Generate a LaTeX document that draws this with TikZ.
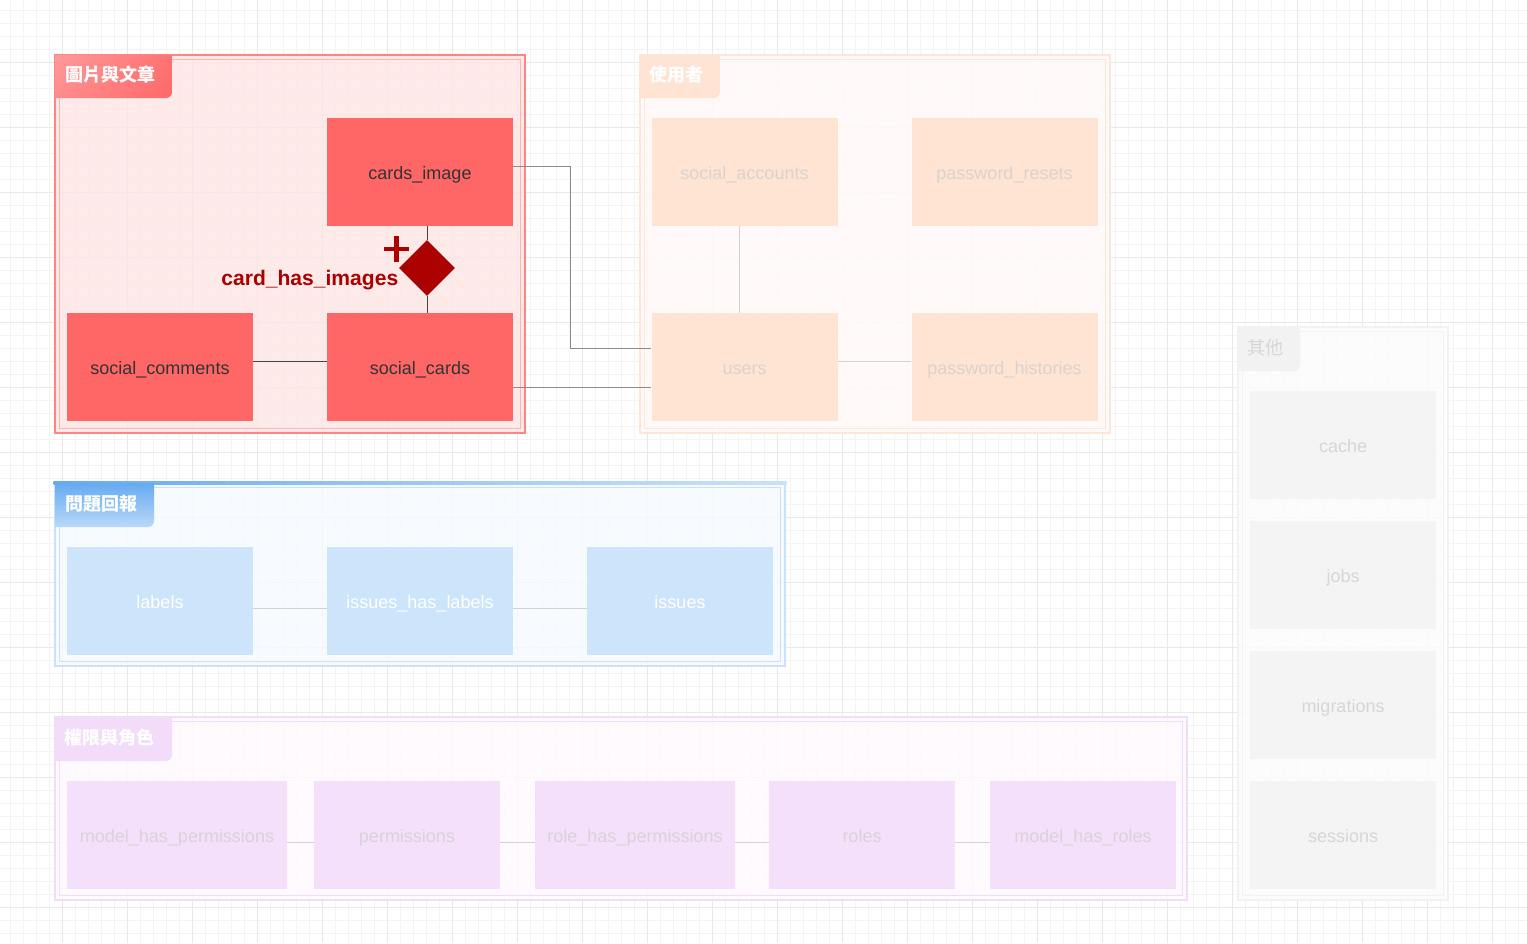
\documentclass[tikz,border=0pt]{standalone}
\usepackage{fontspec}
\setmainfont{Liberation Sans}
\newfontfamily\cjk{Noto Sans CJK TC}
\usetikzlibrary{positioning,shapes.geometric,calc,shadings}

\definecolor{gridMinor}{HTML}{F4F4F4}
\definecolor{gridMajor}{HTML}{E9E9E9}
\definecolor{redNode}{HTML}{FF6666}
\definecolor{redFrame}{HTML}{FF8484}
\definecolor{redInner}{HTML}{FFB4B4}
\definecolor{redBack}{HTML}{FFE4E4}
\definecolor{redTabA}{HTML}{FF9A9A}
\definecolor{redTabB}{HTML}{FF6868}
\definecolor{relRed}{HTML}{AA0000}
\definecolor{peachNode}{HTML}{FFE4D4}
\definecolor{peachFrame}{HTML}{FFE6D8}
\definecolor{peachBack}{HTML}{FFFAF8}
\definecolor{peachText}{HTML}{DCD2CD}
\definecolor{blueNode}{HTML}{CCE5FA}
\definecolor{blueFrame}{HTML}{C9E2FA}
\definecolor{blueBack}{HTML}{F6FAFE}
\definecolor{blueTabA}{HTML}{66AAF0}
\definecolor{blueTabB}{HTML}{B9D9F8}
\definecolor{purpleNode}{HTML}{F4E0FA}
\definecolor{purpleFrame}{HTML}{F3DCF9}
\definecolor{purpleBack}{HTML}{FEFAFE}
\definecolor{purpleText}{HTML}{D9D2D9}
\definecolor{grayNode}{HTML}{F4F4F4}
\definecolor{grayFrame}{HTML}{F2F2F2}
\definecolor{grayBack}{HTML}{FCFCFC}
\definecolor{grayText}{HTML}{D6D6D6}
\definecolor{linkDark}{HTML}{444444}
\definecolor{linkMid}{HTML}{8C8C8C}
\definecolor{linkLight}{HTML}{D2D2D2}

\tikzset{
  tbl/.style={rectangle, minimum width=139.5pt, minimum height=81pt, inner sep=0pt,
    text height=10.5pt, text depth=0pt, font=\fontsize{13.5}{16}\selectfont},
  redtbl/.style={tbl, fill=redNode, text=black!80},
  peachtbl/.style={tbl, fill=peachNode, text=peachText},
  bluetbl/.style={tbl, fill=blueNode, text=white},
  purpletbl/.style={tbl, fill=purpleNode, text=purpleText},
  graytbl/.style={tbl, fill=grayNode, text=grayText},
  tabtext/.style={anchor=west, inner sep=0pt, text=white,
    font=\cjk\bfseries\fontsize{13.5}{16}\selectfont},
  link/.style={line width=0.75pt},
}

\begin{document}
\begin{tikzpicture}[x=0.75pt,y=0.75pt,yscale=-1,xscale=1]
\useasboundingbox (0,0) rectangle (1527,943);
\fill[white] (0,0) rectangle (1527,943);

% grid
\foreach \gx in {10,23,...,1527} \draw[gridMinor, line width=0.75pt] (\gx,0) -- (\gx,943);
\foreach \gy in {10,23,...,943} \draw[gridMinor, line width=0.75pt] (0,\gy) -- (1527,\gy);
\foreach \gx in {62,127,...,1527} \draw[gridMajor, line width=0.75pt] (\gx,0) -- (\gx,943);
\foreach \gy in {62,127,...,943} \draw[gridMajor, line width=0.75pt] (0,\gy) -- (1527,\gy);

% group frames
\fill[redBack, opacity=0.75] (55,55) rectangle (525,433);
\draw[redFrame, line width=2.2pt] (55,55) rectangle (525,433);
\draw[redInner, line width=0.75pt] (59.5,59.5) rectangle (520.5,428.5);

\fill[peachBack, opacity=0.85] (640,55) rectangle (1110,433);
\draw[peachFrame, line width=2.2pt] (640,55) rectangle (1110,433);
\draw[peachFrame, line width=0.75pt] (644.5,59.5) rectangle (1105.5,428.5);

\fill[blueBack, opacity=0.85] (55,483) rectangle (785,666);
\draw[blueFrame, line width=2.2pt] (55,483) rectangle (785,666);
\draw[blueFrame, line width=0.75pt] (59.5,487.5) rectangle (780.5,661.5);
\shade[left color=blueTabA, right color=blueFrame, middle color=blueFrame!55!blueTabA]
  (53.5,481.5) rectangle (786.5,484.5);

\fill[purpleBack, opacity=0.85] (55,717) rectangle (1187,900);
\draw[purpleFrame, line width=2.2pt] (55,717) rectangle (1187,900);
\draw[purpleFrame, line width=0.75pt] (59.5,721.5) rectangle (1182.5,895.5);

\fill[grayBack, opacity=0.85] (1238,327) rectangle (1448,900);
\draw[grayFrame, line width=2.2pt] (1238,327) rectangle (1448,900);
\draw[grayFrame, line width=0.75pt] (1242.5,331.5) rectangle (1443.5,895.5);

% group tabs
\shade[upper left=redTabA, lower right=redTabB, upper right=redTabB!80!redTabA, lower left=redTabA!70!redTabB]
  (55,55) -- (172,55) -- (172,92) arc[start angle=0, end angle=90, radius=6] -- (55,98) -- cycle;
\fill[peachNode] (640,55) -- (720,55) -- (720,92) arc[start angle=0, end angle=90, radius=6] -- (640,98) -- cycle;
\shade[top color=blueTabA, bottom color=blueTabB]
  (55,483) -- (154,483) -- (154,521) arc[start angle=0, end angle=90, radius=6] -- (55,527) -- cycle;
\fill[purpleFrame] (55,717) -- (172,717) -- (172,755) arc[start angle=0, end angle=90, radius=6] -- (55,761) -- cycle;
\fill[grayFrame] (1238,327) -- (1300,327) -- (1300,365) arc[start angle=0, end angle=90, radius=6] -- (1238,371) -- cycle;

\node[tabtext] (tabcards) at (65,75) {圖片與文章};
\node[tabtext] (tabusers) at (649,75) {使用者};
\node[tabtext] (tabissues) at (65,504) {問題回報};
\node[tabtext] (tabroles) at (64,738) {權限與角色};
\node[tabtext, text=grayText, font=\cjk\fontsize{13.5}{16}\selectfont] (tabother) at (1247,348) {其他};

% tables
\node[redtbl] (cimg) at (420,172) {cards\_image};
\node[redtbl] (scom) at (160,367) {social\_comments};
\node[redtbl] (scards) at (420,367) {social\_cards};

\node[peachtbl] (sacc) at (744.5,172) {social\_accounts};
\node[peachtbl] (pres) at (1004.5,172) {password\_resets};
\node[peachtbl] (users) at (744.5,367) {users};
\node[peachtbl] (phist) at (1004.5,367) {password\_histories};

\node[bluetbl] (labels) at (160,601) {labels};
\node[bluetbl] (ihl) at (420,601) {issues\_has\_labels};
\node[bluetbl] (issues) at (680,601) {issues};

\node[purpletbl, minimum width=165pt] (mhp) at (177,835) {model\_has\_permissions};
\node[purpletbl] (perms) at (407,835) {permissions};
\node[purpletbl, minimum width=150pt] (rhp) at (635,835) {role\_has\_permissions};
\node[purpletbl] (roles) at (862,835) {roles};
\node[purpletbl] (mhr) at (1083,835) {model\_has\_roles};

\node[graytbl] (cache) at (1343,445) {cache};
\node[graytbl] (jobs) at (1343,575) {jobs};
\node[graytbl] (migr) at (1343,705) {migrations};
\node[graytbl] (sess) at (1343,835) {sessions};

% relation card_has_images
\node[diamond, fill=relRed, inner sep=0pt, minimum width=42pt, minimum height=42pt] (rel) at (427,268) {};
\node[anchor=east, inner sep=0pt, text=relRed, font=\bfseries\fontsize{15.8}{18}\selectfont] (rellabel) at (398.5,280) {card\_has\_images};
\draw[relRed, line width=3.4pt] (384,249) -- (409,249);
\draw[relRed, line width=3.4pt] (396.5,236) -- (396.5,262);

% connectors
\draw[link, linkDark] ($(cimg.south)+(7,0)$) -- (rel.north);
\draw[link, linkDark] (rel.south) -- ($(scards.north)+(7,0)$);
\draw[link, linkDark] ($(scom.east)+(0,-6)$) -- ($(scards.west)+(0,-6)$);
\draw[link, linkMid] ($(cimg.east)+(0,-6)$) -- ($(cimg.east)+(57,-6)$) |- ($(users.west)+(0,-19)$);
\draw[link, linkMid] ($(scards.east)+(0,20)$) -- ($(users.west)+(0,20)$);

\draw[link, linkLight] ($(sacc.south)+(-5.5,0)$) -- ($(users.north)+(-5.5,0)$);
\draw[link, linkLight] ($(users.east)+(0,-6)$) -- ($(phist.west)+(0,-6)$);
\draw[link, linkLight] ($(users.south)+(-5.5,0)$) -- ($(users.south)+(-5.5,0)$ |- issues.north);

\draw[link, linkLight] ($(labels.east)+(0,7)$) -- ($(ihl.west)+(0,7)$);
\draw[link, linkLight] ($(ihl.east)+(0,7)$) -- ($(issues.west)+(0,7)$);

\draw[link, linkLight] ($(mhp.east)+(0,7)$) -- ($(perms.west)+(0,7)$);
\draw[link, linkLight] ($(perms.east)+(0,7)$) -- ($(rhp.west)+(0,7)$);
\draw[link, linkLight] ($(rhp.east)+(0,7)$) -- ($(roles.west)+(0,7)$);
\draw[link, linkLight] ($(roles.east)+(0,7)$) -- ($(mhr.west)+(0,7)$);

\end{tikzpicture}
\end{document}
